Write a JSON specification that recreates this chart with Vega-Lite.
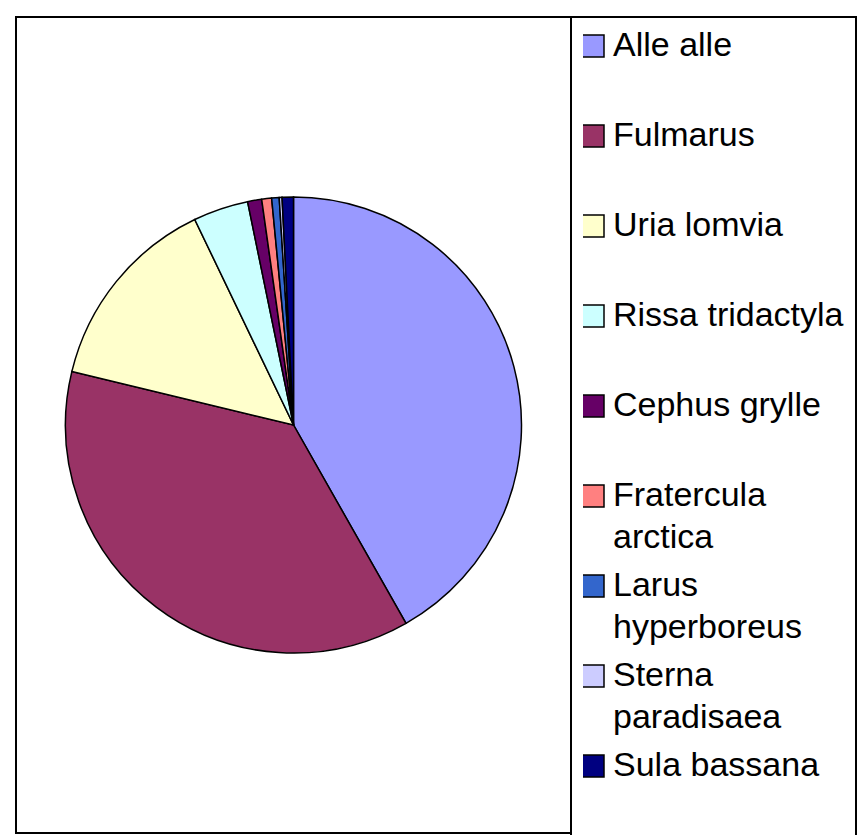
{
  "$schema": "https://vega.github.io/schema/vega-lite/v6.json",
  "width": 555,
  "height": 816,
  "padding": {"left": 16, "top": 16, "right": 0, "bottom": 0},
  "background": "white",
  "view": {"stroke": "black", "strokeWidth": 2},
  "data": {
    "values": [
      {"species": "Alle alle", "pct": 41.8, "idx": 1},
      {"species": "Fulmarus", "pct": 37.0, "idx": 2},
      {"species": "Uria lomvia", "pct": 14.1, "idx": 3},
      {"species": "Rissa tridactyla", "pct": 3.9, "idx": 4},
      {"species": "Cephus grylle", "pct": 1.0, "idx": 5},
      {"species": "Fratercula arctica", "pct": 0.7, "idx": 6},
      {"species": "Larus hyperboreus", "pct": 0.53, "idx": 7},
      {"species": "Sterna paradisaea", "pct": 0.2, "idx": 8},
      {"species": "Sula bassana", "pct": 0.8, "idx": 9}
    ]
  },
  "mark": {"type": "arc", "outerRadius": 228, "stroke": "black", "strokeWidth": 1.5},
  "encoding": {
    "theta": {"field": "pct", "type": "quantitative", "stack": true},
    "order": {"field": "idx", "type": "quantitative"},
    "color": {
      "field": "species",
      "type": "nominal",
      "scale": {
        "domain": ["Alle alle", "Fulmarus", "Uria lomvia", "Rissa tridactyla", "Cephus grylle", "Fratercula arctica", "Larus hyperboreus", "Sterna paradisaea", "Sula bassana"],
        "range": ["#9999FF", "#993366", "#FFFFCC", "#CCFFFF", "#660066", "#FF8080", "#3366CC", "#CCCCFF", "#000080"]
      },
      "legend": {
        "title": null,
        "orient": "right",
        "offset": 0,
        "padding": 12,
        "strokeColor": "black",
        "labelFont": "Liberation Sans",
        "labelFontSize": 34,
        "labelColor": "black",
        "labelLimit": 400,
        "labelOffset": 3,
        "labelExpr": "length(datum.label) > 16 ? split(datum.label, ' ') : [datum.label, '']",
        "symbolType": "square",
        "symbolSize": 484,
        "symbolStrokeColor": "black",
        "symbolStrokeWidth": 1.5,
        "symbolOpacity": 1,
        "symbolOffset": -7,
        "clipHeight": 34,
        "rowPadding": 14,
        "encode": {
          "legend": {"update": {"strokeWidth": {"value": 2}}},
          "labels": {"update": {"lineHeight": {"value": 42}}}
        }
      }
    }
  },
  "config": {"view": {"stroke": "black", "strokeWidth": 2}}
}
